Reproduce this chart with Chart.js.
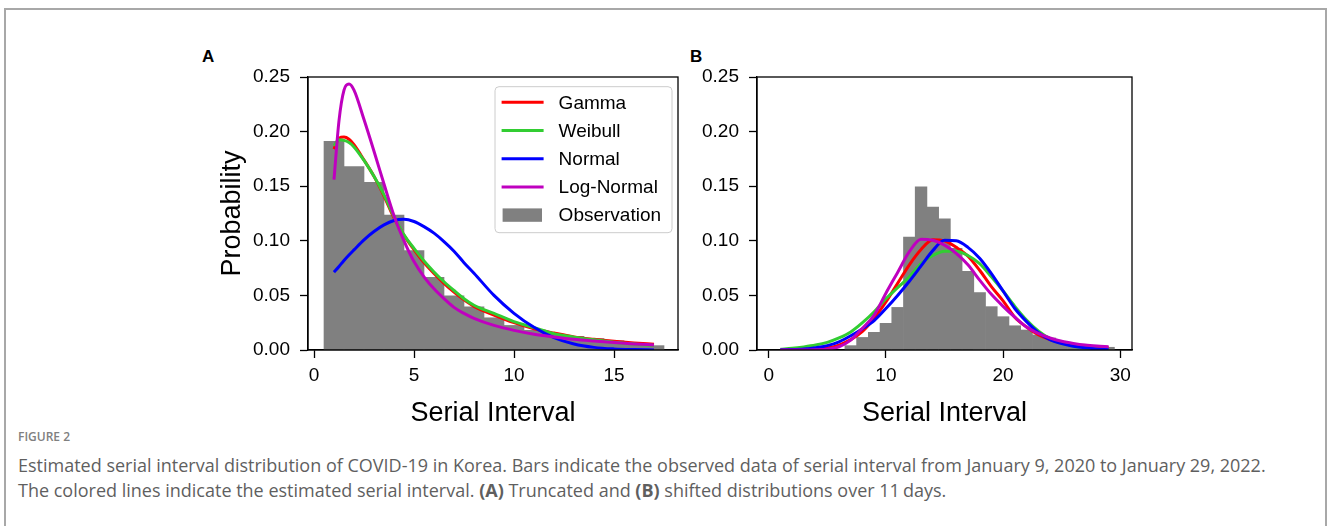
<!DOCTYPE html>
<html lang="en">
<head>
<meta charset="UTF-8">
<title>Serial interval distribution</title>
<script src="https://cdn.jsdelivr.net/npm/chart.js@4.4.1/dist/chart.umd.min.js"></script>
<style>
  body { margin: 0; width: 1328px; height: 526px; background: #fff; overflow: hidden; position: relative; font-family: "Liberation Sans", Arial, sans-serif; }
  .frame { position: absolute; left: 4px; top: 8px; width: 1323px; height: 560px; border: 2px solid #a8a8a8; box-sizing: border-box; }
  .panel { position: absolute; top: 40px; }
  #panelA { left: 180px; }
  #panelB { left: 629px; }
  .tag { position: absolute; top: 48px; font-weight: bold; font-size: 17px; line-height: 17px; color: #000; }
  .fig-no { position: absolute; left: 18px; top: 429px; font-family: "Open Sans", sans-serif; font-weight: 600; font-size: 12px; line-height: 16px; color: #808080; }
  .caption { position: absolute; left: 18px; top: 453px; font-family: "Open Sans", sans-serif; font-size: 18px; line-height: 25px; color: #5f5f5f; white-space: nowrap; }
  .caption b { font-weight: 700; }
</style>
</head>
<body>
<div class="frame"></div>
<div class="tag" style="left:202px">A</div>
<div class="tag" style="left:690px">B</div>
<canvas id="panelA" class="panel" width="520" height="400"></canvas>
<canvas id="panelB" class="panel" width="520" height="400"></canvas>
<div class="fig-no">FIGURE 2</div>
<div class="caption">
  Estimated serial interval distribution of COVID-19 in Korea. Bars indicate the observed data of serial interval from January 9, 2020 to January 29, 2022.<br>
  The colored lines indicate the estimated serial interval. <b>(A)</b> Truncated and <b>(B)</b> shifted distributions over 11&#8201;days.
</div>

<script>
// ---- panel A: truncated ----
const binsA = [1, 2, 3, 4, 5, 6, 7, 8, 9, 10, 11, 12, 13, 14, 15, 16, 17];
const obsA = [0.191, 0.168, 0.1535, 0.1235, 0.091, 0.0665, 0.0495, 0.0395, 0.0295, 0.0225, 0.018, 0.0145, 0.0125, 0.0105, 0.0085, 0.0065, 0.004];
const fitXA = [1, 1.25, 1.5, 1.75, 2, 2.5, 3, 3.5, 4, 4.5, 5, 5.5, 6, 6.5, 7, 7.5, 8, 9, 10, 11, 12, 13, 14, 15, 16, 17];
const gammaA = [0.184, 0.194, 0.195, 0.193, 0.188, 0.174, 0.159, 0.141, 0.121, 0.105, 0.092, 0.080, 0.070, 0.061, 0.053, 0.046, 0.040, 0.032, 0.025, 0.0195, 0.0155, 0.012, 0.0098, 0.008, 0.0065, 0.0053];
const weibullA = [0.187, 0.1925, 0.192, 0.19, 0.186, 0.1736, 0.159, 0.142, 0.1222, 0.1054, 0.093, 0.0815, 0.0715, 0.0625, 0.0545, 0.047, 0.041, 0.0335, 0.026, 0.0205, 0.015, 0.0118, 0.0093, 0.0072, 0.0055, 0.0042];
const normalA = [0.0712, 0.0765, 0.082, 0.087, 0.0917, 0.1009, 0.1085, 0.1146, 0.1186, 0.1198, 0.1177, 0.113, 0.107, 0.0993, 0.0905, 0.080, 0.0703, 0.05, 0.0336, 0.0208, 0.0113, 0.0055, 0.0024, 0.001, 0.0004, 0.0001];
const lognormA = [0.156, 0.21, 0.238, 0.2435, 0.238, 0.211, 0.182, 0.152, 0.123, 0.1, 0.081, 0.067, 0.056, 0.047, 0.039, 0.0335, 0.029, 0.0225, 0.018, 0.0145, 0.012, 0.0098, 0.0082, 0.0068, 0.0056, 0.0046];

// ---- panel B: shifted ----
const binsB = [7, 8, 9, 10, 11, 12, 13, 14, 15, 16, 17, 18, 19, 20, 21, 22, 23, 24, 25, 26, 27, 28, 29];
const obsB = [0.004, 0.0115, 0.0162, 0.0244, 0.039, 0.1033, 0.1494, 0.1308, 0.1201, 0.093, 0.072, 0.0526, 0.0397, 0.0305, 0.0222, 0.0183, 0.0138, 0.011, 0.008, 0.0055, 0.004, 0.003, 0.0025];
const fitXB = [1, 2, 3, 4, 5, 6, 7, 8, 9, 10, 11, 12, 13, 14, 15, 16, 17, 18, 19, 20, 21, 22, 23, 24, 25, 26, 27, 28, 29];
const gammaB = [0, 0, 0.0001, 0.0005, 0.0018, 0.0045, 0.0095, 0.017, 0.029, 0.044, 0.061, 0.078, 0.092, 0.101, 0.1, 0.094, 0.086, 0.073, 0.058, 0.045, 0.03, 0.021, 0.014, 0.0095, 0.0065, 0.0043, 0.0033, 0.0027, 0.0023];
const weibullB = [0.0008, 0.0015, 0.0028, 0.0045, 0.007, 0.011, 0.0165, 0.025, 0.035, 0.047, 0.057, 0.067, 0.079, 0.0865, 0.0905, 0.0905, 0.0865, 0.079, 0.067, 0.054, 0.04, 0.0275, 0.0175, 0.0105, 0.006, 0.0035, 0.002, 0.001, 0.0005];
const normalB = [0.0002, 0.0004, 0.0009, 0.002, 0.004, 0.0075, 0.013, 0.0195, 0.027, 0.038, 0.05, 0.063, 0.077, 0.091, 0.1005, 0.1, 0.094, 0.084, 0.07, 0.054, 0.038, 0.026, 0.016, 0.0095, 0.0058, 0.0035, 0.002, 0.001, 0.0005];
const lognormB = [0, 0, 0, 0.0002, 0.0008, 0.003, 0.009, 0.02, 0.032, 0.052, 0.071, 0.09, 0.1015, 0.1005, 0.096, 0.0885, 0.078, 0.064, 0.051, 0.04, 0.03, 0.021, 0.0152, 0.011, 0.008, 0.006, 0.0045, 0.0036, 0.003];

const yTicks = [0, 0.05, 0.10, 0.15, 0.20, 0.25];
const xTicksA = [0, 5, 10, 15];
const xTicksB = [0, 10, 20, 30];

const FONT = '"Liberation Sans", Arial, sans-serif';
Chart.defaults.font.family = FONT;
Chart.defaults.color = '#000';

const pts = (xs, ys) => xs.map((x, i) => ({ x: x, y: ys[i] }));

function curve(label, color, xs, ys, order) {
  return {
    type: 'line', label: label, data: pts(xs, ys), order: order,
    borderColor: color, borderWidth: 3, pointRadius: 0, fill: false,
    cubicInterpolationMode: 'monotone'
  };
}

function datasets(bins, obs, fx, g, w, n, l) {
  return [
    curve('Gamma', '#ff0000', fx, g, 4),
    curve('Weibull', '#32cd32', fx, w, 3),
    curve('Normal', '#0000ff', fx, n, 2),
    curve('Log-Normal', '#bf00bf', fx, l, 1),
    {
      type: 'bar', label: 'Observation', data: pts(bins, obs), order: 5,
      backgroundColor: '#808080', borderWidth: 0,
      barPercentage: 1, categoryPercentage: 1, grouped: false
    }
  ];
}

// black box around the plot area, drawn over the bars like the spines
const axesFrame = {
  id: 'axesFrame',
  afterDatasetsDraw(chart) {
    const { ctx, chartArea: a } = chart;
    ctx.save();
    ctx.strokeStyle = '#000';
    ctx.lineWidth = 1.3;
    ctx.strokeRect(a.left, a.top, a.right - a.left, a.bottom - a.top);
    ctx.restore();
  }
};

// legend box in the upper right corner of the plot
const insetLegend = {
  id: 'insetLegend',
  afterDatasetsDraw(chart, args, opts) {
    if (!opts.show) return;
    const { ctx, chartArea: a } = chart;
    const w = 177, h = 146;
    const x0 = a.right - 6 - w, y0 = a.top + 9.7;
    ctx.save();
    ctx.beginPath();
    ctx.roundRect(x0, y0, w, h, 4);
    ctx.fillStyle = 'rgba(255,255,255,0.8)';
    ctx.fill();
    ctx.strokeStyle = '#cccccc';
    ctx.lineWidth = 1;
    ctx.stroke();
    ctx.font = '19px ' + FONT;
    ctx.textBaseline = 'middle';
    chart.data.datasets.forEach((ds, i) => {
      const cy = y0 + 15.6 + 28.2 * i;
      if (ds.type === 'bar') {
        ctx.fillStyle = ds.backgroundColor;
        ctx.fillRect(x0 + 7.6, cy - 6.7, 39.4, 13.4);
      } else {
        ctx.strokeStyle = ds.borderColor;
        ctx.lineWidth = 3;
        ctx.beginPath();
        ctx.moveTo(x0 + 6.6, cy);
        ctx.lineTo(x0 + 48.6, cy);
        ctx.stroke();
      }
      ctx.fillStyle = '#000';
      ctx.fillText(ds.label, x0 + 63.6, cy + 1);
    });
    ctx.restore();
  }
};

function makeChart(id, data, xMin, xMax, xTicks, padRight, yTitle, legend) {
  return new Chart(document.getElementById(id), {
    type: 'bar',
    data: { datasets: data },
    plugins: [axesFrame, insetLegend],
    options: {
      responsive: false,
      animation: false,
      devicePixelRatio: 1,
      layout: { padding: { left: 0, top: 37, right: padRight, bottom: 0 } },
      plugins: {
        legend: { display: false },
        tooltip: { enabled: false },
        insetLegend: { show: legend }
      },
      scales: {
        x: {
          type: 'linear', min: xMin, max: xMax, offset: false,
          grid: { display: true, drawOnChartArea: false, offset: false, tickLength: 8, tickWidth: 1.3, tickColor: '#000' },
          border: { display: true, color: '#000', width: 1.3 },
          ticks: { font: { size: 19 }, padding: 6, maxRotation: 0, autoSkip: false },
          afterBuildTicks: s => { s.ticks = xTicks.map(v => ({ value: v })); },
          afterFit: s => { s.height = 90; s.paddingLeft = 0; s.paddingRight = 0; },
          title: { display: true, text: 'Serial Interval', font: { size: 27 }, padding: { top: 0, bottom: 10 } }
        },
        y: {
          type: 'linear', min: 0, max: 0.25,
          grid: { display: true, drawOnChartArea: false, tickLength: 8, tickWidth: 1.3, tickColor: '#000' },
          border: { display: true, color: '#000', width: 1.3 },
          ticks: { font: { size: 19 }, padding: 10, callback: v => v.toFixed(2) },
          afterBuildTicks: s => { s.ticks = yTicks.map(v => ({ value: v })); },
          afterFit: s => { s.width = 128; s.paddingTop = 0; s.paddingBottom = 0; },
          title: { display: yTitle, text: 'Probability', font: { size: 27 }, padding: { top: 36, bottom: 0 } }
        }
      }
    }
  });
}

makeChart('panelA', datasets(binsA, obsA, fitXA, gammaA, weibullA, normalA, lognormA),
  -0.3, 18.2, xTicksA, 22, true, true);
makeChart('panelB', datasets(binsB, obsB, fitXB, gammaB, weibullB, normalB, lognormB),
  -1, 31, xTicksB, 17, false, false);
</script>
</body>
</html>
